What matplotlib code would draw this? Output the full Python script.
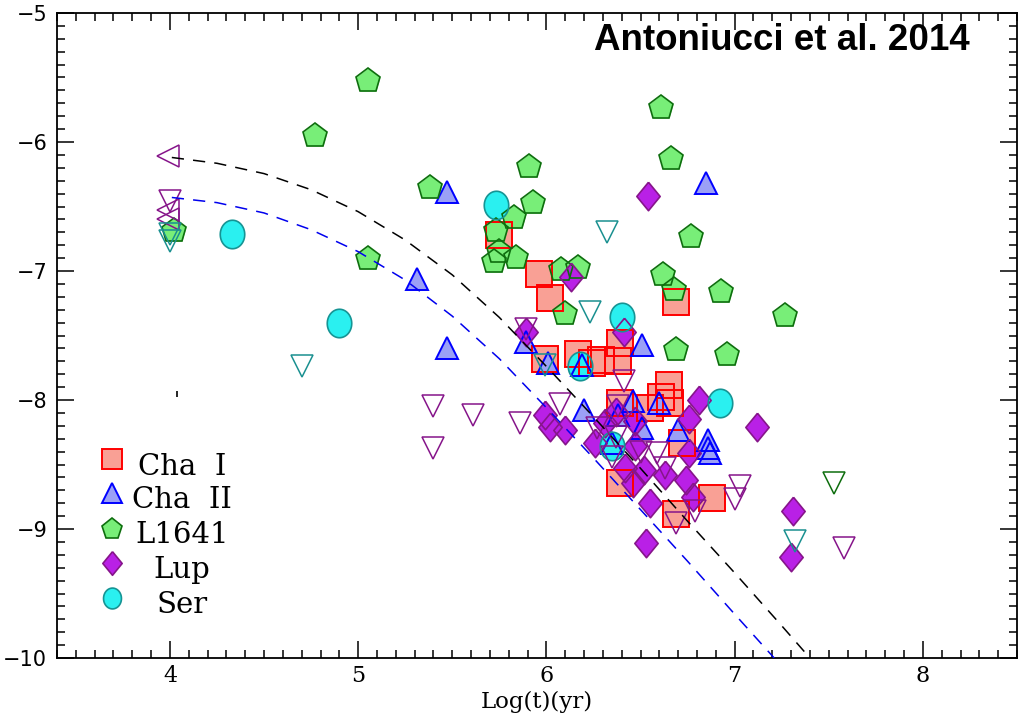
import numpy as np
import matplotlib
matplotlib.use("Agg")
import matplotlib.pyplot as plt
from matplotlib.path import Path
from matplotlib.ticker import MultipleLocator

# ---------------- data ----------------
chaI_x = [5.75, 5.96, 6.02, 6.69, 5.99, 6.17, 6.24, 6.29, 6.39, 6.38, 6.39, 6.55, 6.61, 6.655, 6.65, 6.72, 6.39, 6.88, 6.69]
chaI_y = [-6.72, -7.02, -7.21, -7.24, -7.68, -7.64, -7.71, -7.69, -7.56, -7.70, -8.02, -8.06, -7.98, -8.02, -7.88, -8.33, -8.64, -8.76, -8.88]

chaII_x = [5.47, 5.31, 5.47, 6.85, 6.51, 5.89, 6.01, 6.19, 6.20, 6.38, 6.51, 6.46, 6.60, 6.70, 6.86, 6.86, 6.87, 6.35]
chaII_y = [-6.39, -7.06, -7.60, -6.32, -7.57, -7.55, -7.71, -7.73, -8.08, -8.12, -8.22, -8.01, -8.02, -8.23, -8.31, -8.37, -8.41, -8.33]

l1641_x = [5.05, 4.77, 6.61, 6.66, 5.38, 5.91, 5.93, 5.83, 5.73, 5.75, 5.72, 5.84, 5.05, 6.08, 6.17, 6.10, 6.77, 6.62, 6.68, 6.93, 7.27, 6.69, 6.96, 4.02]
l1641_y = [-5.53, -5.95, -5.74, -6.13, -6.36, -6.19, -6.47, -6.59, -6.69, -6.85, -6.93, -6.90, -6.91, -6.99, -6.98, -7.33, -6.74, -7.03, -7.15, -7.16, -7.35, -7.61, -7.65, -6.69]

lup_x = [6.54, 6.13, 6.41, 5.89, 5.99, 6.02, 6.10, 6.26, 6.31, 6.37, 6.47, 6.42, 6.52, 6.63, 6.74, 6.46, 6.78, 6.55, 6.53, 6.81, 6.76, 6.76, 7.12, 7.31, 7.30, 6.47]
lup_y = [-6.42, -7.05, -7.47, -7.47, -8.12, -8.21, -8.23, -8.33, -8.18, -8.09, -8.36, -8.53, -8.54, -8.58, -8.62, -8.64, -8.75, -8.80, -9.11, -8.00, -8.15, -8.41, -8.21, -8.86, -9.22, -8.16]

ser_x = [5.73, 4.33, 4.90, 6.40, 6.18, 6.35, 6.92]
ser_y = [-6.49, -6.71, -7.40, -7.36, -7.74, -8.36, -8.02]

# upper limits (open symbols)
lim_pur_x = [4.00, 5.40, 5.61, 5.40, 5.86, 6.07, 6.41, 5.89, 6.27, 6.37, 6.35, 6.59, 6.63, 7.03, 7.00, 6.79, 6.69, 6.50, 7.58, 6.38]
lim_pur_y = [-6.46, -8.05, -8.12, -8.37, -8.18, -8.03, -7.85, -7.45, -8.22, -8.29, -8.44, -8.41, -8.53, -8.67, -8.77, -8.86, -8.95, -8.40, -9.15, -8.05]
left_pur_x = [3.99, 3.99, 3.99]
left_pur_y = [-6.11, -6.53, -6.60]
lim_teal_x = [4.00, 4.00, 4.70, 6.32, 6.23, 5.99, 7.32]
lim_teal_y = [-6.71, -6.77, -7.74, -6.70, -7.32, -7.73, -9.09]
lim_green_x = [7.53]
lim_green_y = [-8.64]

mark_x = [4.04]
mark_y = [-7.95]

# model curves
black_x = [4.01, 4.25, 4.50, 4.75, 5.00, 5.25, 5.50, 5.75, 6.00, 6.25, 6.50, 6.75, 7.00, 7.25, 7.37]
black_y = [-6.12, -6.165, -6.245, -6.37, -6.54, -6.76, -7.03, -7.36, -7.74, -8.13, -8.53, -8.94, -9.34, -9.75, -9.95]
blue_x = [4.01, 4.25, 4.50, 4.75, 5.00, 5.25, 5.50, 5.75, 6.00, 6.25, 6.50, 6.75, 7.00, 7.21]
blue_y = [-6.43, -6.47, -6.55, -6.68, -6.85, -7.07, -7.35, -7.68, -8.06, -8.45, -8.85, -9.25, -9.66, -10.0]

labels = ["Cha  I", "Cha  II", "L1641", "Lup", "Ser"]
title = "Antoniucci et al. 2014"

# ---------------- styles ----------------
c_sq_f, c_sq_e = "#F9A095", "#FF0000"
c_tr_f, c_tr_e = "#9BA0F6", "#0000FF"
c_pe_f, c_pe_e = "#78EE78", "#0E6E0E"
c_di_f, c_di_e = "#B920E6", "#86158A"
c_ci_f, c_ci_e = "#2AF0F0", "#169494"
c_pur, c_teal, c_grn = "#86158A", "#1A9090", "#0E6E0E"

diamond = [(0, 1), (0.82, 0), (0, -1), (-0.82, 0), (0, 1)]
th = np.linspace(0, 2 * np.pi, 61)
ellipse = Path(np.column_stack([0.86 * np.cos(th), np.sin(th)]), closed=True)

fig = plt.figure(figsize=(10.29, 7.21), dpi=100)
ax = fig.add_axes([57 / 1029, 1 - 658 / 721, 960 / 1029, 645 / 721])

series = [
    (chaI_x, chaI_y, "s", 18.5, c_sq_f, c_sq_e, 1.4),
    (chaII_x, chaII_y, "^", 16.0, c_tr_f, c_tr_e, 1.4),
    (l1641_x, l1641_y, "p", 18.5, c_pe_f, c_pe_e, 1.2),
    (lup_x, lup_y, diamond, 20.5, c_di_f, c_di_e, 1.2),
    (ser_x, ser_y, ellipse, 20.5, c_ci_f, c_ci_e, 1.2),
]
# fills first, then outlines
for x, y, m, ms, fc, ec, lw in series:
    ax.plot(x, y, ls="none", marker=m, ms=ms, mfc=fc, mec="none", zorder=3)
for x, y, m, ms, fc, ec, lw in series:
    ax.plot(x, y, ls="none", marker=m, ms=ms, mfc="none", mec=ec, mew=lw, zorder=4)

ax.plot(lim_pur_x, lim_pur_y, ls="none", marker="v", ms=16, mfc="none", mec=c_pur, mew=1.1, zorder=5)
ax.plot(left_pur_x, left_pur_y, ls="none", marker="<", ms=16.5, mfc="none", mec=c_pur, mew=1.1, zorder=5)
ax.plot(lim_teal_x, lim_teal_y, ls="none", marker="v", ms=16, mfc="none", mec=c_teal, mew=1.1, zorder=5)
ax.plot(lim_green_x, lim_green_y, ls="none", marker="v", ms=16, mfc="none", mec=c_grn, mew=1.1, zorder=5)
ax.plot(mark_x, mark_y, ls="none", marker="|", ms=5, mec="black", mew=1.2, zorder=5)

ax.plot(black_x, black_y, color="black", lw=1.1, dashes=(8, 6), zorder=6)
ax.plot(blue_x, blue_y, color="#0000EE", lw=1.1, dashes=(8, 6), zorder=6)

ax.set_xlim(3.4, 8.5)
ax.set_ylim(-10, -5)
ax.xaxis.set_major_locator(MultipleLocator(1))
ax.xaxis.set_minor_locator(MultipleLocator(0.1))
ax.yaxis.set_major_locator(MultipleLocator(1))
ax.yaxis.set_minor_locator(MultipleLocator(0.1))
ax.tick_params(which="both", direction="in", top=True, right=True, width=1.1)
ax.tick_params(which="major", length=12)
ax.tick_params(which="minor", length=6)
ax.tick_params(axis="x", pad=5)
ax.tick_params(axis="y", pad=7)
for s in ax.spines.values():
    s.set_linewidth(1.3)
for t in ax.get_xticklabels():
    t.set_fontfamily("DejaVu Serif")
    t.set_fontsize(16)
for t in ax.get_yticklabels():
    t.set_fontfamily("DejaVu Sans")
    t.set_fontsize(15)

ax.set_xlabel("Log(t)(yr)", family="DejaVu Serif", fontsize=16.5, labelpad=3)

ax.text(0.951, 0.957, title, transform=ax.transAxes, ha="right", va="center",
        family="Liberation Sans", fontweight="bold", fontsize=26.5, zorder=7)

# legend (drawn manually to match centred labels)
leg_my = [0.3085, 0.2558, 0.200, 0.1473, 0.093]
leg_ty = [0.2837, 0.2326, 0.1783, 0.124, 0.0698]
leg_ms = [14.0, 14.0, 15.5, 17.0, 15.0]
for (x, y, m, ms, fc, ec, lw), my, ty, lms, lab in zip(series, leg_my, leg_ty, leg_ms, labels):
    ax.plot([0.0573], [my], transform=ax.transAxes, ls="none", marker=m, ms=lms,
            mfc=fc, mec=ec, mew=lw, zorder=8, clip_on=False)
    ax.text(0.130, ty, lab, transform=ax.transAxes, ha="center", va="baseline",
            family="DejaVu Serif", fontsize=21, zorder=8)

fig.savefig("out.png", dpi=100)
